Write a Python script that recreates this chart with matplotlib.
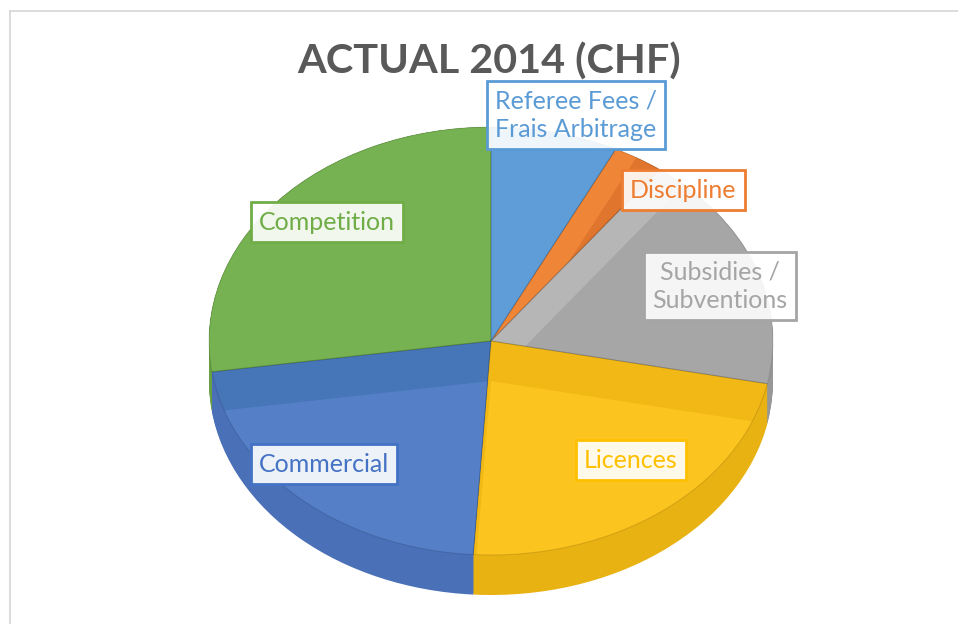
import matplotlib
matplotlib.use("Agg")
import matplotlib.pyplot as plt
from matplotlib.lines import Line2D
import numpy as np

# ---------------- data ----------------
title = "ACTUAL 2014 (CHF)"
categories = ["Referee Fees /\nFrais Arbitrage", "Discipline", "Subsidies /\nSubventions",
              "Licences", "Commercial", "Competition"]
shares = [7.3, 2.9, 18.0, 22.8, 21.7, 27.3]   # % of total

# ---------------- styles ----------------
top_colors = ["#5E9DD8", "#E0752E", "#A6A6A6", "#FCC41E", "#5580C8", "#76B252"]
band_colors = ["#5590CC", "#EF8536", "#B6B6B6", "#F2B916", "#4776B8", "#6AA446"]
side_colors = ["#5590CC", "#D26A26", "#979797", "#E9B213", "#4A70B8", "#68A044"]
text_colors = ["#5B9BD5", "#ED7D31", "#A5A5A5", "#FFC000", "#4472C4", "#70AD47"]
label_xy_px = [(576, 115), (683, 190), (720, 286), (631, 460), (324, 464), (327, 222)]

W, H = 958, 624
fig = plt.figure(figsize=(W / 100, H / 100), dpi=100)
fig.patch.set_facecolor("white")

# chart border (left and top visible)
fig.add_artist(Line2D([10 / W, 10 / W], [0, 1 - 11 / H], transform=fig.transFigure,
                      color="#D9D9D9", lw=1.3))
fig.add_artist(Line2D([10 / W, 1], [1 - 11 / H, 1 - 11 / H], transform=fig.transFigure,
                      color="#D9D9D9", lw=1.3))

# pie axes: top face ellipse spans x 209..773, y 127..555, depth to 595
ry_px = 214.0
depth = 40.0 / ry_px
ax = fig.add_axes([209 / W, (H - 595) / H, 564 / W, 468 / H])

common = dict(startangle=90, counterclock=False, frame=False)

# side walls: stacked layers
for t in np.linspace(depth, 0.0, 32):
    ax.pie(shares, colors=side_colors, center=(0, -t), radius=1.0,
           wedgeprops=dict(linewidth=0, antialiased=True), **common)

# top face: band (inner walls seen through) then the regular top color clipped
top_wedges, _ = ax.pie(shares, colors=band_colors, center=(0, 0), radius=1.0,
                       wedgeprops=dict(linewidth=0), **common)
shift_wedges, _ = ax.pie(shares, colors=top_colors, center=(0, -depth), radius=1.0 + depth,
                         wedgeprops=dict(linewidth=0), **common)
for ws, wt in zip(shift_wedges, top_wedges):
    ws.set_clip_on(True)
    ws.set_clip_path(wt)

# subtle outlines on top face
ax.pie(shares, colors=top_colors, center=(0, 0), radius=1.0,
       wedgeprops=dict(fill=False, edgecolor=(0, 0, 0, 0.12), linewidth=0.8), **common)

ax.set_aspect("auto")
ax.set_xlim(-1, 1)
ax.set_ylim(-1 - depth, 1)
ax.axis("off")

# title
fig.text(489 / W, 1 - 62 / H, title, ha="center", va="center", fontsize=29.8,
         fontweight="bold", color="#595959", family=["Lato", "DejaVu Sans"])

# data labels
for lab, col, (px, py) in zip(categories, text_colors, label_xy_px):
    fig.text(px / W, 1 - py / H, lab, ha="center", va="center", fontsize=18,
             color=col, family=["Lato", "DejaVu Sans"], linespacing=1.3,
             multialignment="center",
             bbox=dict(boxstyle="square,pad=0.33", facecolor=(1, 1, 1, 0.9),
                       edgecolor=col, linewidth=2))

fig.savefig("out.png", dpi=100, facecolor="white")
